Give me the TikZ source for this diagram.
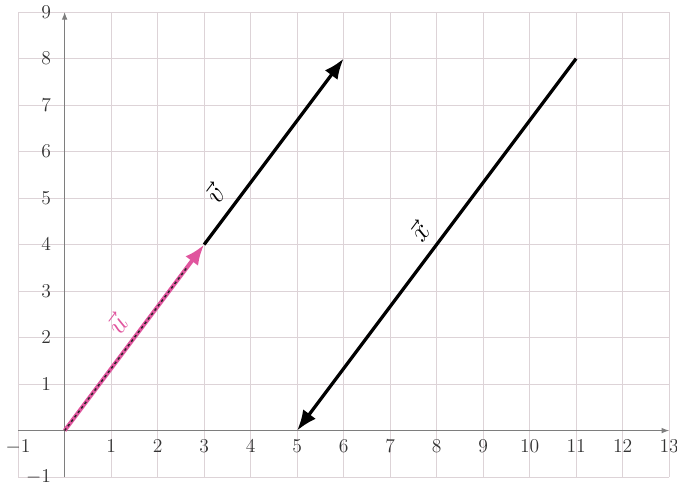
\documentclass[tikz,border=0pt]{standalone}
\usepackage{tikz}
\usetikzlibrary{arrows.meta,calc}
\definecolor{pink500}{HTML}{E0559E}
\definecolor{grid200}{HTML}{DDD3D7}
\definecolor{axis500}{HTML}{7E7E7E}
\tikzset{
  gridline/.style ={draw=grid200, line width=0.5pt},
  axisline/.style ={draw=axis500, line width=0.6pt, -{Latex[length=1.6mm]}},
  vecblack/.style ={draw=black, line width=2pt,
                    -{Latex[length=4.4mm, width=3.4mm]}},
  vecpink/.style  ={draw=pink500, line width=2.4pt,
                    -{Latex[length=4.4mm, width=3.4mm]}},
  vecdash/.style  ={draw=black!85, line width=0.9pt,
                    dash pattern=on 1.6pt off 1.8pt},
  ticklab/.style  ={font=\large, text=black!80, inner sep=1pt},
  veclab/.style   ={font=\LARGE, sloped, above=3pt}
}
\begin{document}
\begin{tikzpicture}
\useasboundingbox (-1.39,-1.09) rectangle (13.17,9.26);
% grid and axes
\draw[gridline] (-1,-1) grid (13,9);
\draw[axisline] (-1,0) -- (13,0);
\draw[axisline] (0,-1) -- (0,9);
\foreach \x in {-1,1,2,...,13}
  \node[ticklab, anchor=north] at (\x,-0.15) {$\x$};
\foreach \y in {-1,1,2,...,9}
  \node[ticklab, anchor=east] at (-0.25,\y) {$\y$};

\coordinate (O)  at (0,0);
\coordinate (U)  at (3,4);
\coordinate (V)  at (6,8);
\coordinate (XS) at (11,8);
\coordinate (XE) at (5,0);

% vectors
\draw[vecblack] (U) -- node[veclab, pos=0.2] {$\vec{v}$} (V);
\draw[vecblack] (XS) -- node[veclab, midway] {$\vec{x}$} (XE);
\draw[vecpink] (O) -- node[veclab, midway, text=pink500] {$\vec{u}$} (U);
\draw[vecdash] (O) -- ($(O)!0.88!(U)$);
\end{tikzpicture}
\end{document}
